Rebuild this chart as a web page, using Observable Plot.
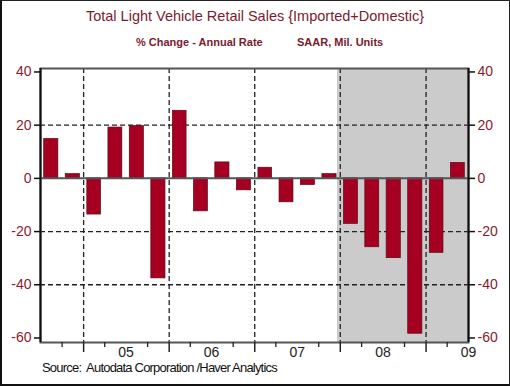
<!DOCTYPE html>
<html>
<head>
<meta charset="utf-8">
<script src="https://cdn.jsdelivr.net/npm/d3@7"></script>
<script src="https://cdn.jsdelivr.net/npm/@observablehq/plot@0.6"></script>
<style>
  html, body { margin: 0; padding: 0; background: #fff; }
  #wrap { position: relative; width: 510px; height: 386px; overflow: hidden; font-family: "Liberation Sans", Arial, sans-serif; }
  #chart { position: absolute; left: 0; top: 0; }
  .t { position: absolute; white-space: nowrap; }
  #title { left: 0; width: 510px; text-align: center; top: 8px; font-size: 14.5px; color: #7a1a2e; }
  #sub1 { left: 136px; top: 36px; font-size: 11px; font-weight: bold; color: #7a1a2e; }
  #sub2 { left: 297px; top: 36px; font-size: 11px; font-weight: bold; color: #7a1a2e; }
  #source { left: 42px; top: 360px; font-size: 13px; color: #111; letter-spacing: -0.8px; }
  #border { position: absolute; left: 0; top: 0; width: 510px; height: 386px; box-sizing: border-box; border: 1px solid #222; border-left: 2px solid #111; border-bottom: 2px solid #111; pointer-events: none; }
</style>
</head>
<body>
<div id="wrap">
  <div id="chart"></div>
  <div class="t" id="title">Total Light Vehicle Retail Sales {Imported+Domestic}</div>
  <div class="t" id="sub1">% Change - Annual Rate</div>
  <div class="t" id="sub2">SAAR, Mil. Units</div>
  <div class="t" id="source">Source:&nbsp; Autodata Corporation /Haver Analytics</div>
  <div id="border"></div>
</div>
<script>
// ---- data ----
const quarters = [
  "2004-07-01","2004-10-01",
  "2005-01-01","2005-04-01","2005-07-01","2005-10-01",
  "2006-01-01","2006-04-01","2006-07-01","2006-10-01",
  "2007-01-01","2007-04-01","2007-07-01","2007-10-01",
  "2008-01-01","2008-04-01","2008-07-01","2008-10-01",
  "2009-01-01","2009-04-01"
];
const pctChange = [
  14.8, 1.6,
  -13.6, 19.1, 19.7, -37.6,
  25.4, -12.4, 6.0, -4.5,
  4.0, -9.0, -2.5, 1.6,
  -17.1, -25.9, -30.0, -58.4,
  -28.0, 5.8
];
const yTicks = [40, 20, 0, -20, -40, -60];
const yGrid = [20, -20, -40];
const yearStarts = ["2005-01-01","2006-01-01","2007-01-01","2008-01-01","2009-01-01"];
const yearMids = ["2005-07-01","2006-07-01","2007-07-01","2008-07-01","2009-07-01"];
const yearLabels = ["05","06","07","08","09"];
const recessionStart = "2007-12-20";
const recessionEnd = "2009-07-01";
const xStart = "2004-07-01";
const xEnd = "2009-07-01";
const yMin = -61.7, yMax = 41.3;

// ---- build ----
const parse = d3.utcParse("%Y-%m-%d");
const table = quarters.map((q, i) => {
  const s = parse(q);
  return {start: s, end: d3.utcMonth.offset(s, 3), value: pctChange[i]};
});
const quarterTicks = d3.utcMonth.every(3).range(parse(xStart), d3.utcDay.offset(parse(xEnd), 1))
  .filter(d => d.getUTCMonth() !== 0 && d.getUTCMonth() !== 6);
const midDates = yearMids.map(parse);
const labelOf = d => yearLabels[midDates.findIndex(m => +m === +d)];
const red = "#8b1a2e";

const chart = Plot.plot({
  width: 510,
  height: 386,
  marginLeft: 40,
  marginRight: 42,
  marginTop: 68,
  marginBottom: 44,
  style: {fontFamily: "'Liberation Sans', Arial, sans-serif", background: "transparent", overflow: "visible"},
  x: {type: "utc", domain: [parse(xStart), parse(xEnd)], axis: null},
  y: {domain: [yMin, yMax], axis: null},
  marks: [
    Plot.rect([{s: parse(recessionStart), e: parse(recessionEnd)}], {x1: "s", x2: "e", fill: "#cbcbcb"}),
    Plot.ruleY(yGrid, {stroke: "#222", strokeWidth: 1.3, strokeDasharray: "5,3"}),
    Plot.ruleX(yearStarts.map(parse), {stroke: "#222", strokeWidth: 1.3, strokeDasharray: "5,3"}),
    Plot.rectY(table, {x1: "start", x2: "end", y: "value", fill: "#a50021", stroke: "#5c0a14", strokeWidth: 0.7, insetLeft: 3.7, insetRight: 3.7}),
    Plot.ruleY([0], {stroke: "#555", strokeWidth: 2}),
    Plot.frame({stroke: "#555", strokeWidth: 2}),
    Plot.ruleX([parse(xStart), parse(xEnd)], {stroke: "#111", strokeWidth: 2}),
    // x axis ticks
    Plot.axisX(quarterTicks, {anchor: "bottom", label: null, tickSize: 5, tickFormat: () => "", stroke: "#222", strokeWidth: 1.3}),
    Plot.axisX(yearStarts.map(parse), {anchor: "bottom", label: null, tickSize: 10, tickFormat: () => "", stroke: "#222", strokeWidth: 1.5}),
    Plot.axisX(midDates, {anchor: "bottom", label: null, tickSize: 0, tickPadding: 4.5, tickFormat: labelOf, fontSize: 14, fill: "#222"}),
    // y axes
    Plot.axisY(yTicks, {anchor: "left", label: null, tickSize: 6, tickFormat: () => "", stroke: "#111", strokeWidth: 1.5}),
    Plot.axisY(yTicks, {anchor: "left", label: null, tickSize: 0, tickPadding: 9, tickFormat: d => String(d), fontSize: 14, fill: red}),
    Plot.axisY(yTicks, {anchor: "right", label: null, tickSize: 6, tickFormat: () => "", stroke: "#111", strokeWidth: 1.5}),
    Plot.axisY(yTicks, {anchor: "right", label: null, tickSize: 0, tickPadding: 9, tickFormat: d => String(d), fontSize: 14, fill: red})
  ]
});
document.getElementById("chart").appendChild(chart);
</script>
</body>
</html>
